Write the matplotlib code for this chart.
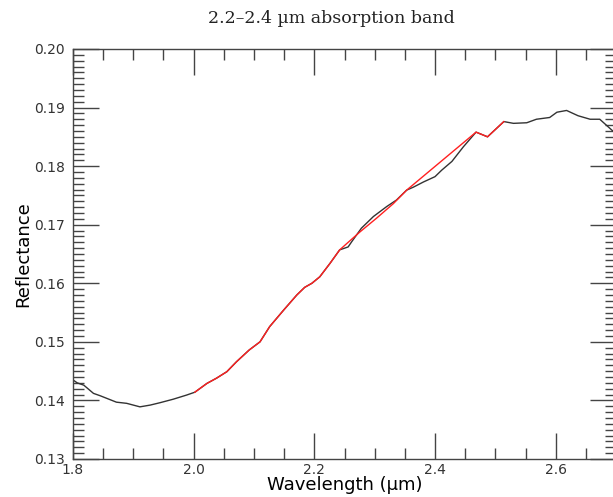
import matplotlib
matplotlib.use("Agg")
import matplotlib.pyplot as plt
from matplotlib.ticker import MultipleLocator

# full spectrum (black)
wl = [1.800, 1.807, 1.818, 1.834, 1.845, 1.872, 1.889, 1.911, 1.928, 1.944,
      1.966, 1.988, 2.002, 2.022, 2.038, 2.055, 2.071, 2.092, 2.110, 2.126,
      2.149, 2.171, 2.184, 2.196, 2.209, 2.226, 2.242, 2.256, 2.262, 2.278,
      2.298, 2.320, 2.336, 2.353, 2.364, 2.381, 2.400, 2.411, 2.428, 2.447,
      2.468, 2.487, 2.514, 2.530, 2.552, 2.568, 2.590, 2.602, 2.618, 2.637,
      2.657, 2.673, 2.687, 2.700]
refl = [0.1435, 0.1430, 0.1426, 0.1412, 0.1408, 0.1397, 0.1395, 0.1389, 0.1392, 0.1396,
        0.1402, 0.1409, 0.1414, 0.1429, 0.1438, 0.1449, 0.1466, 0.1486, 0.1500, 0.1526,
        0.1554, 0.1580, 0.1593, 0.1600, 0.1611, 0.1634, 0.1657, 0.1662, 0.1671, 0.1694,
        0.1714, 0.1731, 0.1742, 0.1759, 0.1764, 0.1773, 0.1782, 0.1793, 0.1808, 0.1833,
        0.1858, 0.1850, 0.1876, 0.1873, 0.1874, 0.1880, 0.1883, 0.1892, 0.1895, 0.1886,
        0.1880, 0.1880, 0.1867, 0.1855]

# fitted segment (red)
wl_fit = [2.002, 2.022, 2.038, 2.055, 2.071, 2.092, 2.110, 2.126, 2.149, 2.171,
          2.184, 2.196, 2.209, 2.226, 2.242, 2.254, 2.276, 2.303, 2.331, 2.353,
          2.468, 2.487, 2.514]
refl_fit = [0.1414, 0.1429, 0.1438, 0.1449, 0.1466, 0.1486, 0.1500, 0.1526, 0.1554, 0.1580,
            0.1593, 0.1600, 0.1611, 0.1634, 0.1657, 0.1668, 0.1688, 0.1711, 0.1736, 0.1759,
            0.1858, 0.1850, 0.1876]

fig = plt.figure(figsize=(6.13, 4.97), dpi=100)
ax = fig.add_axes([0.119, 0.0765, 0.886, 0.825])

ax.plot(wl, refl, color="#333333", lw=1.0)
ax.plot(wl_fit, refl_fit, color="#ff2020", lw=1.0)

ax.set_xlim(1.8, 2.7)
ax.set_ylim(0.13, 0.20)
ax.xaxis.set_major_locator(MultipleLocator(0.2))
ax.xaxis.set_minor_locator(MultipleLocator(0.05))
ax.yaxis.set_major_locator(MultipleLocator(0.01))
ax.yaxis.set_minor_locator(MultipleLocator(0.001))
ax.xaxis.set_major_formatter(plt.FormatStrFormatter("%.1f"))
ax.yaxis.set_major_formatter(plt.FormatStrFormatter("%.2f"))
ax.tick_params(which="both", direction="in", top=True, right=True, width=1.0,
               color="#444444", labelsize=10, labelcolor="#333333")
ax.tick_params(which="major", length=19)
ax.tick_params(which="minor", length=8)
ax.tick_params(axis="y", which="major", pad=6)
ax.tick_params(axis="x", which="major", pad=3)
for s in ax.spines.values():
    s.set_color("#444444")
    s.set_linewidth(1.0)

ax.set_xlabel("Wavelength (µm)", fontsize=13, labelpad=-1)
ax.set_ylabel("Reflectance", fontsize=13, labelpad=1)
fig.text(0.54, 0.963, "2.2–2.4 µm absorption band", ha="center", va="center",
         fontsize=12.5, family="DejaVu Serif", color="#222222")

fig.savefig("out.png", dpi=100)
